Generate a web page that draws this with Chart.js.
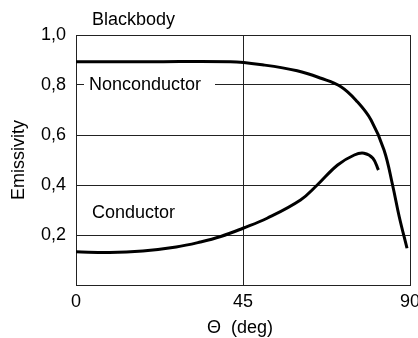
<!DOCTYPE html>
<html>
<head>
<meta charset="utf-8">
<script src="https://cdn.jsdelivr.net/npm/chart.js@4"></script>
<style>
  html, body { margin: 0; padding: 0; background: #fff; }
  #wrap { width: 418px; height: 338px; }
</style>
</head>
<body>
<div id="wrap"><canvas id="emisChart" width="418" height="338"></canvas></div>
<script>
// Dados (ângulo em graus, emissividade)
const anguloNaoCondutor = [0, 20, 41.6, 50.6, 59.6, 66, 71.4, 75.8, 79.5, 83, 85.3, 87.1, 89.2];
const emisNaoCondutor = [0.893, 0.893, 0.893, 0.88, 0.857, 0.827, 0.793, 0.733, 0.66, 0.54, 0.40, 0.273, 0.147];
const anguloCondutor = [0, 9, 18, 27, 33.5, 39, 45, 51.5, 60.5, 65, 70.5, 75, 77.6, 80, 81.5];
const emisCondutor = [0.133, 0.13, 0.136, 0.152, 0.172, 0.194, 0.227, 0.267, 0.34, 0.40, 0.48, 0.52, 0.527, 0.507, 0.46];
const ticksX = [0, 45, 90];
const ticksY = [0.2, 0.4, 0.6, 0.8, 1.0];

const fonte = '"Liberation Sans", Arial, sans-serif';
const pontos = (xs, ys) => xs.map((x, i) => ({ x: x, y: ys[i] }));

// Textos dentro do gráfico
const rotulos = {
  id: 'rotulos',
  afterDraw(chart) {
    const c = chart.ctx;
    c.save();
    c.font = '18px ' + fonte;
    c.textBaseline = 'middle';
    c.textAlign = 'left';
    // fundo branco cortando a grade em 0,8
    c.fillStyle = '#fff';
    c.fillRect(84, 74, 131, 21);
    c.fillStyle = '#000';
    c.fillText('Blackbody', 92, 20);
    c.fillText('Nonconductor', 89, 85);
    c.fillText('Conductor', 92, 213);
    c.textAlign = 'center';
    c.fillText('\u0398  (deg)', 240, 328);
    c.translate(19, 160);
    c.rotate(-Math.PI / 2);
    c.fillText('Emissivity', 0, 0);
    c.restore();
  }
};

const ctx = document.getElementById('emisChart').getContext('2d');
const grafico = new Chart(ctx, {
  type: 'scatter',
  data: {
    datasets: [
      {
        label: 'Nonconductor',
        data: pontos(anguloNaoCondutor, emisNaoCondutor),
        showLine: true,
        borderColor: '#000',
        borderWidth: 3,
        pointRadius: 0,
        tension: 0.4
      },
      {
        label: 'Conductor',
        data: pontos(anguloCondutor, emisCondutor),
        showLine: true,
        borderColor: '#000',
        borderWidth: 3,
        pointRadius: 0,
        tension: 0.4
      }
    ]
  },
  options: {
    responsive: false,
    animation: false,
    layout: { padding: { top: 35, right: 8, left: 0, bottom: 0 } },
    plugins: { legend: { display: false }, tooltip: { enabled: false } },
    scales: {
      x: {
        type: 'linear',
        min: 0,
        max: 90,
        afterBuildTicks: s => { s.ticks = ticksX.map(v => ({ value: v })); },
        afterFit: s => { s.height = 53; s.paddingRight = 0; s.paddingLeft = 0; },
        ticks: { color: '#000', font: { family: fonte, size: 18 }, padding: 6, maxRotation: 0 },
        grid: { color: '#222', lineWidth: 1, drawTicks: false },
        border: { color: '#222', width: 1 }
      },
      y: {
        min: 0,
        max: 1,
        afterBuildTicks: s => { s.ticks = ticksY.map(v => ({ value: v })); },
        afterFit: s => { s.width = 76; s.paddingTop = 0; },
        ticks: {
          color: '#000',
          font: { family: fonte, size: 18 },
          padding: 10,
          callback: v => v.toFixed(1).replace('.', ',')
        },
        grid: { color: '#222', lineWidth: 1, drawTicks: false },
        border: { color: '#222', width: 1 }
      }
    }
  },
  plugins: [rotulos]
});
</script>
</body>
</html>
